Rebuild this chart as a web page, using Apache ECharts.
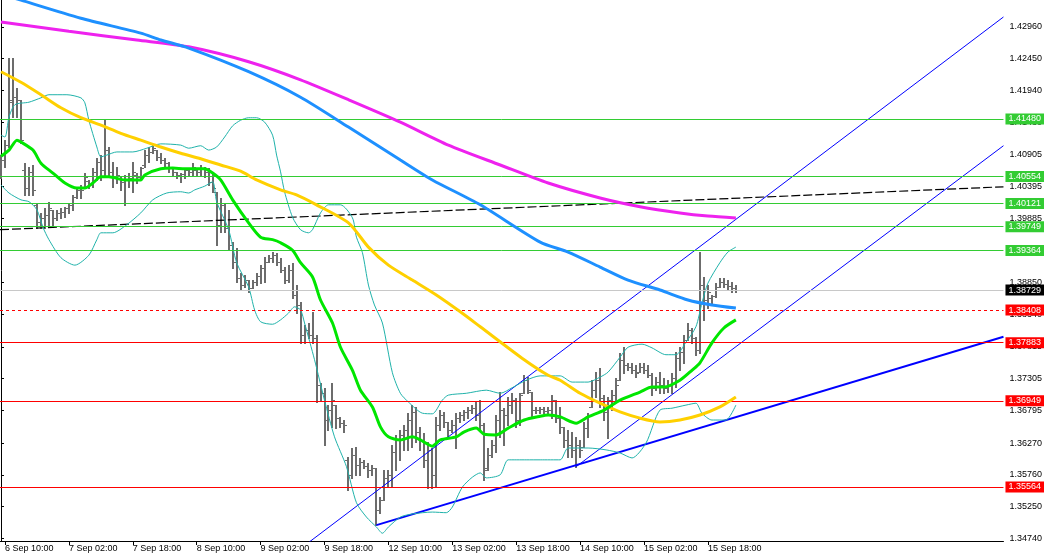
<!DOCTYPE html>
<html>
<head>
<meta charset="utf-8">
<script src="https://cdn.jsdelivr.net/npm/echarts@6/dist/echarts.min.js"></script>
<style>
html,body{margin:0;padding:0;background:#ffffff;}
#chart{width:1045px;height:559px;}
</style>
</head>
<body>
<div id="chart"></div>
<script>
// ---------- time axis (hourly bars, index 0 = 6 Sep 09:00) ----------
const timeTickIndex = [1, 17, 33, 49, 65, 81, 97, 113, 129, 145, 161, 177];
const timeTickLabels = ['6 Sep 10:00','7 Sep 02:00','7 Sep 18:00','8 Sep 10:00','9 Sep 02:00','9 Sep 18:00',
  '12 Sep 10:00','13 Sep 02:00','13 Sep 18:00','14 Sep 10:00','15 Sep 02:00','15 Sep 18:00'];

// ---------- price axis ticks ----------
const priceTicks = [1.42960,1.42450,1.41940,1.41430,1.40905,1.40395,1.39885,1.39370,1.38850,1.38340,1.37815,1.37305,1.36795,1.36270,1.35760,1.35250,1.34740];

// ---------- OHLC bars ----------
const barOpen = [
1.4066,1.4082,1.4106,1.4175,1.4183,1.4178,1.4066,1.4037,1.4063,1.4010,
1.3982,1.3989,1.3994,1.4002,1.3989,1.3997,1.3998,1.4005,1.4010,1.4023,
1.4034,1.4037,1.4048,1.4043,1.4063,1.4079,1.4066,1.4098,1.4063,1.4055,
1.4053,1.4047,1.4050,1.4053,1.4058,1.4055,1.4074,1.4090,1.4095,1.4098,
1.4087,1.4082,1.4077,1.4069,1.4063,1.4058,1.4060,1.4066,1.4063,1.4066,
1.4063,1.4069,1.4063,1.4047,1.4031,1.3978,1.4010,1.3973,1.3945,1.3918,
1.3892,1.3881,1.3889,1.3876,1.3886,1.3896,1.3908,1.3918,1.3925,1.3929,
1.3918,1.3905,1.3889,1.3905,1.3865,1.3849,1.3801,1.3809,1.3801,1.3796,
1.3720,1.3707,1.3664,1.3680,1.3688,1.3667,1.3659,1.3600,1.3576,1.3608,
1.3592,1.3597,1.3590,1.3584,1.3587,1.3519,1.3535,1.3571,1.3576,1.3613,
1.3632,1.3640,1.3648,1.3664,1.3677,1.3645,1.3632,1.3600,1.3616,1.3576,
1.3656,1.3672,1.3661,1.3648,1.3656,1.3667,1.3672,1.3677,1.3680,1.3683,
1.3672,1.3656,1.3587,1.3608,1.3624,1.3664,1.3680,1.3672,1.3688,1.3696,
1.3664,1.3707,1.3728,1.3709,1.3680,1.3680,1.3682,1.3679,1.3680,1.3696,
1.3667,1.3653,1.3632,1.3624,1.3616,1.3624,1.3621,1.3651,1.3685,1.3712,
1.3728,1.3699,1.3677,1.3696,1.3704,1.3728,1.3761,1.3752,1.3749,1.3744,
1.3741,1.3749,1.3744,1.3736,1.3716,1.3725,1.3720,1.3716,1.3720,1.3732,
1.3764,1.3773,1.3793,1.3809,1.3796,1.3777,1.3881,1.3857,1.3860,1.3863,
1.3878,1.3886,1.3883,1.3880,1.3876];
const barHigh = [
1.4090,1.4114,1.4246,1.4246,1.4198,1.4178,1.4077,1.4071,1.4074,1.4013,
1.3997,1.4005,1.4015,1.4002,1.4002,1.4005,1.4007,1.4013,1.4026,1.4037,
1.4042,1.4061,1.4050,1.4069,1.4085,1.4090,1.4146,1.4103,1.4079,1.4071,
1.4055,1.4058,1.4061,1.4079,1.4061,1.4071,1.4098,1.4103,1.4106,1.4098,
1.4093,1.4085,1.4079,1.4071,1.4063,1.4061,1.4069,1.4069,1.4077,1.4069,
1.4074,1.4071,1.4069,1.4061,1.4031,1.4021,1.4013,1.4002,1.3950,1.3941,
1.3900,1.3897,1.3889,1.3889,1.3900,1.3913,1.3926,1.3929,1.3934,1.3933,
1.3925,1.3910,1.3913,1.3917,1.3881,1.3854,1.3817,1.3820,1.3838,1.3801,
1.3724,1.3716,1.3688,1.3724,1.3688,1.3669,1.3664,1.3605,1.3619,1.3621,
1.3603,1.3600,1.3595,1.3592,1.3587,1.3540,1.3584,1.3584,1.3624,1.3640,
1.3648,1.3656,1.3675,1.3688,1.3685,1.3653,1.3643,1.3629,1.3619,1.3669,
1.3680,1.3677,1.3661,1.3664,1.3675,1.3677,1.3680,1.3685,1.3688,1.3693,
1.3696,1.3659,1.3619,1.3632,1.3672,1.3709,1.3683,1.3701,1.3707,1.3699,
1.3707,1.3736,1.3733,1.3709,1.3685,1.3685,1.3685,1.3685,1.3704,1.3696,
1.3685,1.3653,1.3648,1.3645,1.3637,1.3632,1.3661,1.3675,1.3728,1.3741,
1.3748,1.3704,1.3701,1.3712,1.3732,1.3772,1.3781,1.3756,1.3756,1.3752,
1.3756,1.3756,1.3752,1.3740,1.3733,1.3741,1.3732,1.3728,1.3740,1.3773,
1.3781,1.3801,1.3820,1.3812,1.3798,1.3934,1.3894,1.3881,1.3865,1.3884,
1.3892,1.3892,1.3889,1.3886,1.3881];
const barLow = [
1.4053,1.4071,1.4103,1.4151,1.4151,1.4109,1.4026,1.4026,1.4026,1.3973,
1.3973,1.3973,1.3974,1.3974,1.3986,1.3989,1.3990,1.3997,1.4002,1.4021,
1.4021,1.4037,1.4037,1.4039,1.4050,1.4050,1.4055,1.4055,1.4039,1.4045,
1.4034,1.4010,1.4039,1.4031,1.4045,1.4050,1.4071,1.4079,1.4093,1.4082,
1.4077,1.4071,1.4063,1.4058,1.4053,1.4047,1.4053,1.4058,1.4058,1.4056,
1.4058,1.4055,1.4042,1.4031,1.3945,1.3966,1.3966,1.3937,1.3908,1.3886,
1.3873,1.3878,1.3870,1.3876,1.3881,1.3884,1.3886,1.3918,1.3918,1.3913,
1.3902,1.3884,1.3886,1.3860,1.3836,1.3788,1.3788,1.3796,1.3788,1.3693,
1.3696,1.3624,1.3648,1.3653,1.3651,1.3653,1.3645,1.3552,1.3571,1.3576,
1.3576,1.3587,1.3572,1.3576,1.3495,1.3515,1.3535,1.3556,1.3556,1.3584,
1.3600,1.3616,1.3616,1.3621,1.3629,1.3616,1.3589,1.3555,1.3555,1.3556,
1.3648,1.3653,1.3637,1.3645,1.3619,1.3661,1.3664,1.3667,1.3675,1.3664,
1.3648,1.3568,1.3584,1.3605,1.3613,1.3637,1.3624,1.3656,1.3675,1.3653,
1.3656,1.3707,1.3707,1.3669,1.3675,1.3675,1.3675,1.3672,1.3667,1.3661,
1.3643,1.3621,1.3605,1.3605,1.3589,1.3605,1.3621,1.3637,1.3685,1.3701,
1.3685,1.3664,1.3635,1.3680,1.3696,1.3728,1.3740,1.3744,1.3740,1.3733,
1.3741,1.3740,1.3733,1.3704,1.3712,1.3707,1.3707,1.3709,1.3707,1.3717,
1.3744,1.3756,1.3793,1.3788,1.3769,1.3772,1.3825,1.3844,1.3849,1.3862,
1.3878,1.3878,1.3873,1.3870,1.3870];
const barClose = [
1.4082,1.4106,1.4178,1.4183,1.4178,1.4114,1.4037,1.4063,1.4034,1.3982,
1.3989,1.3994,1.4005,1.3989,1.3997,1.3998,1.4005,1.4010,1.4023,1.4034,
1.4034,1.4055,1.4043,1.4063,1.4079,1.4066,1.4098,1.4063,1.4055,1.4058,
1.4047,1.4050,1.4053,1.4063,1.4055,1.4069,1.4090,1.4095,1.4101,1.4087,
1.4082,1.4077,1.4069,1.4063,1.4058,1.4060,1.4066,1.4063,1.4071,1.4063,
1.4069,1.4063,1.4047,1.4037,1.3978,1.4010,1.3973,1.3945,1.3918,1.3892,
1.3881,1.3889,1.3876,1.3886,1.3896,1.3908,1.3918,1.3925,1.3929,1.3918,
1.3905,1.3889,1.3905,1.3865,1.3849,1.3801,1.3809,1.3801,1.3796,1.3720,
1.3707,1.3664,1.3680,1.3696,1.3667,1.3659,1.3656,1.3576,1.3608,1.3592,
1.3597,1.3590,1.3584,1.3587,1.3519,1.3535,1.3571,1.3576,1.3613,1.3632,
1.3640,1.3648,1.3664,1.3677,1.3645,1.3632,1.3600,1.3616,1.3576,1.3656,
1.3672,1.3661,1.3648,1.3656,1.3667,1.3672,1.3677,1.3680,1.3683,1.3672,
1.3656,1.3584,1.3608,1.3624,1.3664,1.3680,1.3672,1.3688,1.3696,1.3664,
1.3704,1.3728,1.3712,1.3680,1.3680,1.3682,1.3679,1.3680,1.3696,1.3667,
1.3653,1.3632,1.3624,1.3616,1.3624,1.3616,1.3651,1.3672,1.3712,1.3728,
1.3699,1.3677,1.3696,1.3704,1.3720,1.3761,1.3752,1.3749,1.3744,1.3740,
1.3749,1.3744,1.3736,1.3716,1.3725,1.3720,1.3716,1.3720,1.3732,1.3764,
1.3773,1.3793,1.3809,1.3796,1.3777,1.3881,1.3857,1.3870,1.3863,1.3878,
1.3886,1.3883,1.3880,1.3876,1.3873];

// ---------- indicator lines [bar index, price] ----------
const maGreen = [[0,1.4088],[2,1.4098],[4,1.4114],[5,1.4111],[8,1.4098],[10,1.4077],[13,1.4061],[16,1.4045],[19,1.4037],[21,1.4037],[23,1.4045],[25,1.4055],[27,1.4055],[31,1.4050],[35,1.4050],[36,1.4058],[40,1.4068],[43,1.4069],[46,1.4068],[51,1.4068],[53,1.4061],[55,1.4050],[58,1.4018],[62,1.3981],[65,1.3958],[68,1.3954],[70,1.3949],[73,1.3937],[75,1.3917],[78,1.3894],[80,1.3857],[83,1.3820],[85,1.3781],[88,1.3744],[90,1.3712],[93,1.3685],[95,1.3653],[97,1.3637],[100,1.3632],[103,1.3637],[105,1.3632],[108,1.3622],[110,1.3632],[114,1.3637],[116,1.3645],[119,1.3651],[121,1.3641],[124,1.3640],[127,1.3651],[131,1.3664],[135,1.3670],[137,1.3672],[140,1.3669],[144,1.3659],[147,1.3669],[151,1.3680],[155,1.3696],[160,1.3709],[163,1.3717],[166,1.3717],[170,1.3728],[173,1.3744],[175,1.3756],[178,1.3788],[181,1.3812],[184,1.3825]];
const maGold = [[0,1.4224],[5,1.4207],[10,1.4187],[15,1.4166],[20,1.4150],[25,1.4138],[30,1.4125],[35,1.4114],[40,1.4103],[45,1.4093],[50,1.4084],[55,1.4074],[60,1.4064],[64,1.4050],[70,1.4034],[74,1.4026],[79,1.4010],[87,1.3981],[92,1.3942],[97,1.3913],[103,1.3889],[109,1.3865],[115,1.3838],[120,1.3814],[131,1.3761],[137,1.3736],[140,1.3728],[145,1.3707],[150,1.3691],[155,1.3677],[160,1.3667],[165,1.3661],[170,1.3664],[175,1.3672],[180,1.3685],[184,1.3701]];
const maBlue = [[0,1.4349],[5,1.4339],[20,1.4310],[35,1.4286],[40,1.4275],[47,1.4262],[62,1.4224],[75,1.4183],[87,1.4135],[100,1.4082],[108,1.4050],[120,1.4010],[135,1.3950],[142,1.3934],[150,1.3910],[157,1.3889],[165,1.3873],[172,1.3857],[178,1.3849],[184,1.3844]];
const maMagenta = [[0,1.4304],[17,1.4289],[34,1.4275],[47,1.4264],[62,1.4240],[75,1.4211],[87,1.4179],[100,1.4143],[112,1.4106],[125,1.4074],[137,1.4045],[150,1.4021],[160,1.4007],[170,1.3997],[177,1.3992],[184,1.3989]];
const bandUpper = [[0,1.4122],[1,1.4119],[2,1.4151],[3.5,1.4171],[7,1.4175],[10,1.4182],[12,1.4187],[16.5,1.4187],[20,1.4182],[21,1.4174],[22,1.4146],[24,1.4103],[25,1.4087],[26.5,1.4090],[29,1.4095],[33,1.4095],[36.5,1.4101],[40,1.4108],[45,1.4106],[47,1.4101],[50,1.4105],[52,1.4098],[54,1.4103],[56,1.4119],[58,1.4137],[60,1.4146],[62,1.4150],[64,1.4150],[66,1.4143],[68,1.4122],[69,1.4090],[70,1.4063],[71,1.4031],[73,1.3990],[75,1.3970],[77,1.3965],[78,1.3970],[80,1.3997],[82,1.4010],[85,1.4010],[88,1.3989],[89,1.3958],[90.5,1.3933],[92,1.3881],[93.5,1.3849],[95.5,1.3820],[98,1.3740],[100,1.3707],[102,1.3693],[105.5,1.3675],[108,1.3674],[110.5,1.3696],[112,1.3704],[116.5,1.3707],[121.5,1.3712],[125,1.3707],[128,1.3716],[131.5,1.3728],[135,1.3735],[140,1.3735],[143,1.3725],[147,1.3725],[150,1.3733],[152,1.3741],[155,1.3765],[157,1.3781],[160.5,1.3786],[163,1.3780],[166.5,1.3769],[169,1.3769],[171.5,1.3789],[174,1.3814],[175.5,1.3852],[177,1.3884],[180,1.3917],[182,1.3934],[184,1.3942]];
const bandLower = [[0,1.4042],[2,1.4029],[5,1.4018],[7,1.4015],[9,1.4002],[10.5,1.3974],[12,1.3954],[15,1.3925],[18.5,1.3913],[22,1.3929],[24,1.3954],[25,1.3965],[28,1.3965],[31.5,1.3978],[35,1.3997],[38,1.4018],[41.5,1.4029],[45,1.4031],[47,1.4029],[48.5,1.4034],[51,1.4040],[53,1.4047],[54,1.4015],[57,1.3970],[59,1.3917],[62,1.3878],[63.5,1.3841],[65,1.3822],[68,1.3818],[70,1.3825],[72,1.3836],[73.5,1.3846],[75,1.3841],[76,1.3820],[78.5,1.3761],[81,1.3696],[83.5,1.3637],[86.5,1.3589],[89,1.3531],[91.5,1.3508],[94,1.3492],[95.5,1.3482],[97,1.3492],[100,1.3508],[103,1.3513],[108,1.3516],[111.5,1.3515],[113,1.3524],[115.5,1.3556],[118,1.3572],[120,1.3579],[121.5,1.3571],[125,1.3576],[127,1.3600],[131.5,1.3600],[135,1.3600],[140,1.3600],[142,1.3619],[147,1.3619],[151.5,1.3616],[155,1.3611],[158,1.3603],[161.5,1.3627],[165,1.3680],[168,1.3683],[171.5,1.3688],[174,1.3691],[175.5,1.3675],[178,1.3664],[181.5,1.3664],[184,1.3688]];

// ---------- trend lines [bar index, price] ----------
const trendDashed = [[-0.25,1.3970],[251,1.4039]];
const channelUpper = [[70,1.3433],[251,1.4312]];
const channelLower = [[144,1.3589],[251,1.4105]];
const supportLine = [[94,1.3495],[251,1.3798]];

// ---------- horizontal levels ----------
const greenLevels = [1.41480, 1.40554, 1.40121, 1.39749, 1.39364];
const lastPrice = 1.38729;
const redDashedLevel = 1.38408;
const redLevels = [1.37883, 1.36949, 1.35564];

const FONT = 'Liberation Sans';
const GREEN = '#33cc33';
const RED = '#ff0000';

const ohlcData = barOpen.map((o, i) => [i, o, barHigh[i], barLow[i], barClose[i]]);

const levelData = [];
greenLevels.forEach(v => levelData.push({yAxis: v, lineStyle: {color: GREEN, type: 'solid', width: 1}, label: {backgroundColor: GREEN, color: '#ffffff'}}));
levelData.push({yAxis: lastPrice, lineStyle: {color: '#c8c8c8', type: 'solid', width: 1}, label: {backgroundColor: '#000000', color: '#ffffff'}});
levelData.push({yAxis: redDashedLevel, lineStyle: {color: RED, type: [3, 3], width: 1}, label: {backgroundColor: RED, color: '#ffffff'}});
redLevels.forEach(v => levelData.push({yAxis: v, lineStyle: {color: RED, type: 'solid', width: 1}, label: {backgroundColor: RED, color: '#ffffff'}}));

function lineSeries(data, color, width, z, extra) {
  return Object.assign({
    type: 'line', data: data, showSymbol: false, symbol: 'none', smooth: 0.25,
    lineStyle: {color: color, width: width}, z: z, silent: true, clip: true, animation: false
  }, extra || {});
}

const chart = echarts.init(document.getElementById('chart'), null, {renderer: 'canvas'});
chart.setOption({
  animation: false,
  backgroundColor: '#ffffff',
  grid: {left: 0, right: 40, top: 0, bottom: 18, containLabel: false},
  xAxis: {
    type: 'value', min: -0.25, max: 251,
    axisLine: {show: true, lineStyle: {color: '#000000', width: 1}},
    axisTick: {show: true, length: 4, lineStyle: {color: '#000000'}, customValues: timeTickIndex},
    axisLabel: {
      show: true, customValues: timeTickIndex, align: 'left', margin: 3,
      fontFamily: FONT, fontSize: 9, color: '#000000',
      formatter: v => timeTickLabels[timeTickIndex.indexOf(v)] || ''
    },
    splitLine: {show: false}
  },
  yAxis: {
    type: 'value', position: 'right', min: 1.34695, max: 1.43393, scale: true,
    axisLine: {show: true, lineStyle: {color: '#000000', width: 1}},
    axisTick: {show: true, length: 3, lineStyle: {color: '#000000'}, customValues: priceTicks},
    axisLabel: {
      show: true, customValues: priceTicks, margin: 6, align: 'left',
      fontFamily: FONT, fontSize: 9, color: '#000000',
      formatter: v => v.toFixed(5)
    },
    splitLine: {show: false}
  },
  series: [
    {
      type: 'custom', name: 'bars', z: 2, silent: true, animation: false,
      data: ohlcData,
      encode: {x: 0, y: [1, 2, 3, 4]},
      renderItem: function (params, api) {
        const i = api.value(0);
        const o = api.coord([i, api.value(1)]);
        const h = api.coord([i, api.value(2)]);
        const l = api.coord([i, api.value(3)]);
        const c = api.coord([i, api.value(4)]);
        const x = Math.round(o[0]);
        const stroke = '#6c6c6c';
        return {
          type: 'group',
          children: [
            {type: 'line', shape: {x1: x, y1: Math.round(h[1]), x2: x, y2: Math.round(l[1]) + 1}, style: {stroke: stroke, lineWidth: 2}},
            {type: 'line', shape: {x1: x - 3, y1: Math.round(o[1]) + 0.5, x2: x - 1, y2: Math.round(o[1]) + 0.5}, style: {stroke: stroke, lineWidth: 1}},
            {type: 'line', shape: {x1: x + 1, y1: Math.round(c[1]) + 0.5, x2: x + 3, y2: Math.round(c[1]) + 0.5}, style: {stroke: stroke, lineWidth: 1}}
          ]
        };
      }
    },
    lineSeries(trendDashed, '#000000', 1, 3, {
      smooth: false, lineStyle: {color: '#000000', width: 1.2, type: [9, 3]},
      markLine: {
        symbol: ['none', 'none'], silent: true, animation: false, precision: 5,
        label: {
          show: true, position: 'end', distance: 2, fontFamily: FONT, fontSize: 9,
          lineHeight: 11, padding: [0, 3, 0, 3],
          formatter: p => Number(p.value).toFixed(5)
        },
        data: levelData
      }
    }),
    lineSeries(channelUpper, '#0000ff', 1, 3, {smooth: false}),
    lineSeries(channelLower, '#0000ff', 1, 3, {smooth: false}),
    lineSeries(supportLine, '#0000ff', 2, 3, {smooth: false}),
    lineSeries(bandUpper, '#20b2aa', 1, 4),
    lineSeries(bandLower, '#20b2aa', 1, 4),
    lineSeries(maMagenta, '#ee22ee', 3, 5),
    lineSeries(maBlue, '#1e90ff', 3, 5),
    lineSeries(maGold, '#ffd000', 3, 5),
    lineSeries(maGreen, '#00e600', 3, 6)
  ]
});
</script>
</body>
</html>
